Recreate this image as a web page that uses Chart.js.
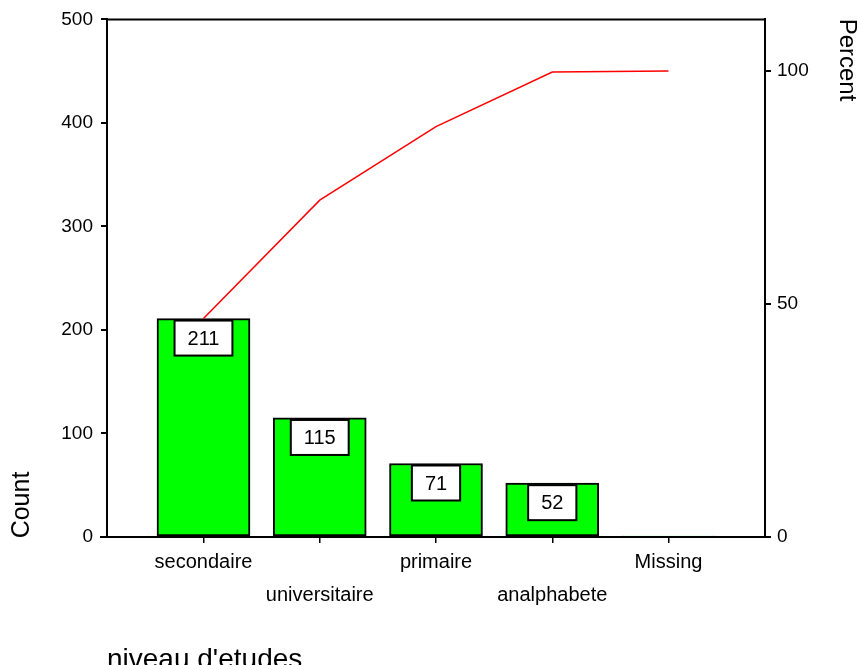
<!DOCTYPE html>
<html>
<head>
<meta charset="utf-8">
<script src="https://cdn.jsdelivr.net/npm/chart.js@4"></script>
<style>
  body { margin: 0; background: #fff; }
  #wrap { width: 857px; height: 665px; }
</style>
</head>
<body>
<div id="wrap"><canvas id="paretoChart" width="857" height="665"></canvas></div>
<script>
  // niveau d'etudes - counts and cumulative percent
  const categories = ["secondaire", "universitaire", "primaire", "analphabete", "Missing"];
  const counts = [211, 115, 71, 52, 1];
  const cumPercent = [46.9, 72.3, 88.1, 99.8, 100];
  const countTicks = [0, 100, 200, 300, 400, 500];
  const percentTicks = [0, 50, 100];

  Chart.defaults.font.family = "'Liberation Sans', Arial, sans-serif";
  Chart.defaults.color = "#000";

  const ctx = document.getElementById("paretoChart").getContext("2d");

  const boxesAndTitles = {
    id: "boxesAndTitles",
    afterDatasetsDraw(chart) {
      const c = chart.ctx;
      const meta = chart.getDatasetMeta(0);
      c.save();
      c.font = "20px 'Liberation Sans', Arial, sans-serif";
      c.textAlign = "center";
      c.textBaseline = "middle";
      meta.data.forEach((bar, i) => {
        if (counts[i] < 10) return;
        const txt = String(counts[i]);
        const w = c.measureText(txt).width + 26;
        const h = 35;
        const top = bar.y + 2;
        c.fillStyle = "#fff";
        c.fillRect(bar.x - w / 2, top, w, h);
        c.strokeStyle = "#000";
        c.lineWidth = 2;
        c.strokeRect(bar.x - w / 2, top, w, h);
        c.fillStyle = "#000";
        c.fillText(txt, bar.x, top + h / 2 + 1);
      });
      c.restore();
    },
    afterDraw(chart) {
      const c = chart.ctx;
      const a = chart.chartArea;
      c.save();
      // frame top line and extended baseline
      c.strokeStyle = "#000";
      c.lineWidth = 2;
      c.beginPath();
      c.moveTo(a.left - 1, a.top);
      c.lineTo(a.right + 1, a.top);
      c.moveTo(a.left - 7, a.bottom);
      c.lineTo(a.right + 6, a.bottom);
      c.stroke();

      c.fillStyle = "#000";
      c.textBaseline = "middle";
      c.textAlign = "center";
      c.font = "25px 'Liberation Sans', Arial, sans-serif";
      c.save();
      c.translate(22, 505);
      c.rotate(-Math.PI / 2);
      c.fillText("Count", 0, 0);
      c.restore();
      c.font = "24px 'Liberation Sans', Arial, sans-serif";
      c.save();
      c.translate(847, 60);
      c.rotate(Math.PI / 2);
      c.fillText("Percent", 0, 0);
      c.restore();

      c.font = "28px 'Liberation Sans', Arial, sans-serif";
      c.textAlign = "left";
      c.textBaseline = "alphabetic";
      c.fillText("niveau d'etudes", a.left, 668);
      c.restore();
    }
  };

  new Chart(ctx, {
    data: {
      datasets: [
        {
          type: "bar",
          label: "Count",
          data: counts.map((v, i) => ({ x: i, y: v })),
          backgroundColor: "#00ff00",
          borderColor: "#000",
          borderWidth: 2,
          borderSkipped: false,
          barThickness: 93,
          yAxisID: "y",
          order: 2,
        },
        {
          type: "line",
          label: "Percent",
          data: cumPercent.map((v, i) => ({ x: i, y: v })),
          borderColor: "#ff0000",
          borderWidth: 1.5,
          pointRadius: 0,
          tension: 0,
          fill: false,
          yAxisID: "y1",
          order: 1,
        },
      ],
    },
    options: {
      responsive: false,
      animation: false,
      layout: { padding: { top: 16, left: 0, right: 0, bottom: 0 } },
      plugins: {
        legend: { display: false },
        tooltip: { enabled: false },
      },
      scales: {
        x: {
          type: "linear",
          offset: false,
          min: -0.83,
          max: 4.83,
          afterBuildTicks(scale) {
            scale.ticks = categories.map((_, i) => ({ value: i }));
          },
          afterFit(scale) { scale.height = 128; },
          ticks: {
            autoSkip: false,
            maxRotation: 0,
            padding: 3,
            font: { size: 20, lineHeight: 1.65 },
            callback: (v) => (v % 2 === 1 ? ["", categories[v]] : categories[v]),
          },
          grid: { offset: false, drawOnChartArea: false, drawTicks: true, tickLength: 6, color: "#000", lineWidth: 1.5 },
          border: { display: true, color: "#000", width: 2 },
        },
        y: {
          position: "left",
          min: 0,
          max: 500,
          afterBuildTicks(scale) {
            scale.ticks = countTicks.map((v) => ({ value: v }));
          },
          afterFit(scale) { scale.width = 107; },
          ticks: { padding: 8, font: { size: 19 } },
          grid: { drawOnChartArea: false, drawTicks: true, tickLength: 6, color: "#000", lineWidth: 2 },
          border: { display: true, color: "#000", width: 2 },
        },
        y1: {
          position: "right",
          min: 0,
          max: 111.1,
          afterBuildTicks(scale) {
            scale.ticks = percentTicks.map((v) => ({ value: v }));
          },
          afterFit(scale) { scale.width = 92; },
          ticks: { padding: 6, font: { size: 19 } },
          grid: { drawOnChartArea: false, drawTicks: true, tickLength: 6, color: "#000", lineWidth: 2 },
          border: { display: true, color: "#000", width: 2 },
        },
      },
    },
    plugins: [boxesAndTitles],
  });
</script>
</body>
</html>
